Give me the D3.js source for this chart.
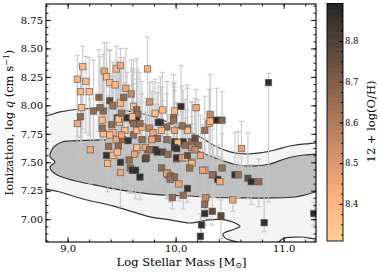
<!DOCTYPE html>
<html><head><meta charset="utf-8">
<script src="https://cdn.jsdelivr.net/npm/d3@7"></script>
<style>
body{margin:0;background:#fff}
svg{display:block}
text{font-family:"DejaVu Serif",serif;fill:#000}
</style>
</head><body>
<svg id="chart" width="380" height="274"></svg>
<script>
// ---- data ----
const mass = [
9.14,9.09,9.17,9.12,9.20,9.34,9.36,9.45,9.49,9.39,
9.44,9.54,9.59,9.29,9.39,9.42,9.49,9.52,9.74,9.13,
9.24,9.33,9.61,9.76,9.88,10.05,9.86,9.46,9.81,9.99,
10.19,10.32,9.64,9.65,9.98,10.31,10.38,10.43,10.86,10.27,
10.61,10.43,10.35,10.55,10.58,10.67,10.27,10.39,10.41,10.70,
10.77,10.53,10.28,10.27,10.27,10.34,10.42,10.24,10.23,10.82,
11.28,10.15,10.15,10.15,9.21,9.36,9.42,9.37,9.49,9.57,
9.58,9.60,9.63,9.49,9.67,9.72,9.74,9.47,9.46,9.64,
9.62,9.81,9.88,9.87,9.92,9.93,9.98,10.07,10.01,9.97,
10.07,10.11,9.09,9.12,9.33,9.32,9.38,9.42,9.45,9.51,
9.56,9.61,9.64,9.53,9.50,9.41,9.48,9.32,9.39,9.55,
9.60,9.64,9.47,9.69,9.76,9.79,9.84,9.98,9.99,10.11,
10.11,9.92,9.99,10.02,9.99,10.01,9.64,9.72,9.76,9.83,
9.93,9.73,10.01,10.06,10.09,10.11,10.15,10.13,10.25,9.92,
10.34,10.32,9.95,9.99,9.95,10.03,9.30,9.50,9.60,9.61,
9.67,9.92,10.06,9.83,9.87,10.18,10.21,10.23,10.18,10.09,
9.78,9.69];
const logq = [
8.34,8.23,8.21,8.12,8.12,8.30,8.25,8.32,8.35,8.20,
8.18,8.15,8.10,8.07,8.04,8.00,8.02,8.07,8.32,7.98,
7.95,7.95,7.99,8.03,7.96,7.99,7.85,7.89,7.93,7.95,
7.98,7.92,7.96,7.92,7.89,7.84,7.87,7.87,8.20,7.78,
7.62,7.45,7.39,7.39,7.39,7.36,7.43,7.35,7.33,7.33,
7.33,7.17,7.19,7.13,7.05,7.07,7.03,6.95,6.85,6.97,
7.05,7.68,7.63,7.50,7.61,7.56,7.56,7.49,7.50,7.52,
7.45,7.43,7.43,7.41,7.37,7.53,7.61,7.64,7.59,7.61,
7.57,7.61,7.59,7.45,7.41,7.39,7.37,7.68,7.53,7.19,
7.21,7.27,7.84,7.90,7.75,7.87,7.64,7.76,7.70,7.70,
7.69,7.74,7.78,7.78,7.74,7.83,7.85,7.80,7.74,7.89,
7.87,7.87,7.88,7.81,7.80,7.76,7.85,7.87,7.78,7.80,
7.78,7.70,7.68,7.67,7.63,7.62,7.63,7.63,7.61,7.59,
7.57,7.54,7.54,7.54,7.54,7.56,7.49,7.45,7.43,7.40,
7.39,7.86,7.38,7.37,7.35,7.31,7.98,7.93,7.90,7.84,
7.84,7.81,7.82,7.71,7.78,7.71,7.65,7.56,7.61,7.65,
7.70,7.70];
const metallicity = [
8.40,8.42,8.38,8.41,8.39,8.47,8.37,8.40,8.45,8.38,
8.39,8.46,8.55,8.68,8.76,8.64,8.40,8.66,8.44,8.38,
8.65,8.67,8.39,8.52,8.38,8.86,8.85,8.84,8.39,8.39,
8.46,8.55,8.66,8.64,8.65,8.45,8.87,8.68,8.87,8.64,
8.47,8.65,8.77,8.86,8.64,8.76,8.45,8.86,8.45,8.87,
8.66,8.46,8.56,8.65,8.86,8.76,8.77,8.86,8.87,8.86,
8.87,8.66,8.54,8.46,8.45,8.86,8.38,8.39,8.85,8.65,
8.66,8.86,8.87,8.45,8.86,8.85,8.65,8.66,8.39,8.38,
8.46,8.87,8.76,8.66,8.39,8.64,8.86,8.86,8.65,8.66,
8.65,8.86,8.45,8.66,8.38,8.39,8.65,8.38,8.46,8.66,
8.85,8.65,8.39,8.38,8.46,8.66,8.39,8.65,8.38,8.86,
8.66,8.86,8.38,8.39,8.56,8.46,8.86,8.65,8.46,8.65,
8.38,8.65,8.86,8.39,8.87,8.85,8.38,8.46,8.65,8.86,
8.66,8.76,8.86,8.46,8.38,8.76,8.39,8.65,8.46,8.46,
8.65,8.39,8.65,8.66,8.64,8.46,8.66,8.65,8.39,8.66,
8.65,8.66,8.65,8.66,8.39,8.76,8.65,8.46,8.55,8.66,
8.46,8.65];
const errLow = [
.55,.50,.45,.40,.38,.45,.40,.50,.40,.35,
.42,.30,.35,.30,.35,.30,.40,.28,.45,.35,
.30,.28,.35,.30,.30,.32,.30,.35,.25,.30,
.28,.30,.30,.28,.25,.30,.32,.35,1.05,.25,
.15,.20,.20,.20,.20,.18,.18,.15,.15,.20,
.22,.10,.10,.10,.10,.12,.20,.15,.10,.08,
.10,.30,.25,.25,.30,.25,.30,.25,.20,.28,
.22,.20,.25,.30,.20,.25,.30,.30,.28,.30,
.25,.25,.30,.22,.20,.20,.18,.30,.25,.10,
.12,.12,.30,.35,.30,.35,.30,.30,.30,.28,
.30,.30,.35,.30,.30,.35,.30,.35,.30,.30,
.30,.28,.35,.30,.28,.25,.30,.30,.28,.30,
.25,.28,.25,.30,.25,.22,.28,.25,.30,.25,
.25,.22,.25,.22,.25,.22,.20,.20,.20,.22,
.18,.30,.20,.18,.20,.15,.35,.30,.30,.28,
.30,.28,.30,.25,.30,.28,.25,.22,.25,.28,
.28,.28];
const errHigh = [
.18,.21,.22,.12,.30,.25,.30,.20,.15,.28,
.18,.35,.30,.42,.45,.38,.40,.35,.28,.35,
.45,.50,.40,.17,.33,.36,.40,.50,.30,.25,
.16,.35,.45,.40,.30,.30,.28,.25,.08,.30,
.24,.30,.25,.37,.38,.40,.45,.30,.22,.15,
.20,.28,.30,.25,.18,.28,.14,.25,.20,.25,
.10,.35,.40,.40,.45,.40,.35,.50,.40,.38,
.35,.30,.32,.40,.35,.40,.45,.42,.45,.40,
.35,.40,.45,.35,.40,.30,.35,.45,.38,.25,
.30,.30,.40,.45,.50,.45,.45,.50,.45,.40,
.48,.40,.45,.42,.40,.45,.48,.50,.42,.40,
.45,.42,.45,.40,.40,.45,.35,.40,.38,.35,
.40,.40,.45,.35,.40,.40,.40,.40,.45,.42,
.35,.40,.38,.40,.35,.40,.35,.38,.40,.35,
.40,.28,.30,.32,.30,.30,.45,.42,.40,.35,
.45,.40,.35,.40,.38,.35,.40,.35,.38,.40,
.42,.40];

// density contour outlines (mass, log q)
const outerContour = [
[8.65,7.889],[8.80,7.907],[8.93,7.942],[9.115,7.968],[9.30,7.973],[9.485,7.959],[9.67,7.933],
[9.856,7.880],[10.04,7.801],[10.226,7.722],[10.365,7.643],[10.504,7.591],[10.643,7.573],
[10.781,7.582],[10.92,7.608],[11.059,7.643],[11.198,7.661],[11.40,7.652],
[11.45,7.30],[11.40,6.844],[11.152,6.844],[11.013,6.836],[10.948,6.80],[10.828,6.765],[10.689,6.774],
[10.569,6.80],[10.457,6.836],[10.439,6.871],[10.522,6.906],[10.596,6.937],[10.55,6.967],
[10.457,6.994],[10.30,6.994],[10.133,6.967],[9.948,6.994],[9.763,7.020],[9.606,7.064],
[9.42,7.117],[9.143,7.178],[8.93,7.239],[8.80,7.266],[8.65,7.292],[8.60,7.60]];
const innerContour = [
[8.948,7.678],[9.022,7.687],[9.30,7.696],[9.578,7.700],[9.763,7.705],[9.902,7.678],
[10.041,7.643],[10.226,7.591],[10.365,7.538],[10.578,7.476],[10.735,7.468],[10.874,7.485],
[11.041,7.538],[11.198,7.564],[11.40,7.556],[11.45,7.40],[11.40,7.239],[11.30,7.239],
[11.198,7.213],[11.106,7.195],[10.893,7.187],[10.578,7.187],[10.272,7.195],[10.133,7.204],
[9.856,7.213],[9.485,7.257],[9.30,7.292],[9.115,7.327],[8.976,7.362],[8.902,7.389],
[8.853,7.424],[8.837,7.459],[8.883,7.503],[8.837,7.547],[8.853,7.608],[8.883,7.643]];

const xMajor = [9.0, 10.0, 11.0];
const yMajor = [7.00, 7.25, 7.50, 7.75, 8.00, 8.25, 8.50, 8.75];
const cbMajor = [8.4, 8.5, 8.6, 8.7, 8.8];

// ---- layout ----
const svg = d3.select("#chart");
const L = 46, R = 316, T = 4, B = 242;
const x = d3.scaleLinear().domain([8.8, 11.3]).range([L, R]);
const y = d3.scaleLinear().domain([6.80, 8.89]).range([B, T]);
const cbScale = d3.scaleLinear().domain([8.309, 8.892]).range([241, 3.5]);

function copperR(v){
  let t = 1 - (v - 8.309) / (8.892 - 8.309);
  t = Math.max(0, Math.min(1, t));
  const a = 0.85;
  const r = Math.min(1, 1.25 * t), g = 0.7812 * t, b = 0.4975 * t;
  const f = c => Math.round(255 * (a * c + (1 - a)));
  return `rgb(${f(r)},${f(g)},${f(b)})`;
}

svg.append("defs").append("clipPath").attr("id","plotclip")
  .append("rect").attr("x",L).attr("y",T).attr("width",R-L).attr("height",B-T);

const plot = svg.append("g").attr("clip-path","url(#plotclip)");
const line = d3.line().x(d=>x(d[0])).y(d=>y(d[1])).curve(d3.curveCatmullRomClosed.alpha(0.5));

plot.append("path").attr("d", line(outerContour))
  .attr("fill","#f4f4f4").attr("stroke","#333").attr("stroke-width",1.2);
plot.append("path").attr("d", line(innerContour))
  .attr("fill","#bfbfbf").attr("stroke","#333").attr("stroke-width",1.2);

const idx = d3.range(mass.length);
// error bars
const eb = plot.append("g").attr("stroke","#c4c4c4").attr("stroke-width",1.2).attr("stroke-opacity",0.85);
idx.forEach(i=>{
  const cx = x(mass[i]), y0 = y(logq[i]-errLow[i]), y1 = y(logq[i]+errHigh[i]);
  eb.append("line").attr("x1",cx).attr("x2",cx).attr("y1",y0).attr("y2",y1);
  eb.append("line").attr("x1",cx-2.6).attr("x2",cx+2.6).attr("y1",y0).attr("y2",y0);
  eb.append("line").attr("x1",cx-2.6).attr("x2",cx+2.6).attr("y1",y1).attr("y2",y1);
});
// markers
const s = 6.4;
plot.append("g").selectAll("rect").data(idx).join("rect")
  .attr("x", i=>x(mass[i])-s/2).attr("y", i=>y(logq[i])-s/2)
  .attr("width", s).attr("height", s)
  .attr("fill", i=>copperR(metallicity[i]))
  .attr("stroke","#505050").attr("stroke-opacity",0.75).attr("stroke-width",0.8);

// axes
function styleAxis(g){ g.select(".domain").remove(); g.selectAll("line").attr("stroke","#000").attr("stroke-width",0.9); g.selectAll("text").attr("font-family","DejaVu Serif").attr("font-size",10); }
const xMinor = d3.range(8.8, 11.3, 0.2).map(v=>+v.toFixed(2));
const yMinor = d3.range(6.8125, 8.89, 0.0625).map(v=>+v.toFixed(4));

svg.append("g").attr("transform",`translate(0,${B})`)
  .call(d3.axisBottom(x).tickValues(xMinor).tickSize(-2.5).tickFormat("")).call(styleAxis);
svg.append("g").attr("transform",`translate(0,${B})`)
  .call(d3.axisBottom(x).tickValues(xMajor).tickSize(-5).tickPadding(2.5).tickFormat(d3.format(".1f"))).call(styleAxis);
svg.append("g").attr("transform",`translate(0,${T})`)
  .call(d3.axisTop(x).tickValues(xMinor).tickSize(-2.5).tickFormat("")).call(styleAxis);
svg.append("g").attr("transform",`translate(0,${T})`)
  .call(d3.axisTop(x).tickValues(xMajor).tickSize(-5).tickFormat("")).call(styleAxis);
svg.append("g").attr("transform",`translate(${L},0)`)
  .call(d3.axisLeft(y).tickValues(yMinor).tickSize(-2.5).tickFormat("")).call(styleAxis);
svg.append("g").attr("transform",`translate(${L},0)`)
  .call(d3.axisLeft(y).tickValues(yMajor).tickSize(-5).tickPadding(3).tickFormat(d3.format(".2f"))).call(styleAxis);
svg.append("g").attr("transform",`translate(${R},0)`)
  .call(d3.axisRight(y).tickValues(yMinor).tickSize(-2.5).tickFormat("")).call(styleAxis);
svg.append("g").attr("transform",`translate(${R},0)`)
  .call(d3.axisRight(y).tickValues(yMajor).tickSize(-5).tickFormat("")).call(styleAxis);

svg.append("rect").attr("x",L).attr("y",T).attr("width",R-L).attr("height",B-T)
  .attr("fill","none").attr("stroke","#000").attr("stroke-width",1.1);

// axis labels
const yl = svg.append("text").attr("transform","translate(13,122.5) rotate(-90)")
  .attr("text-anchor","middle").attr("font-size",11.5);
yl.append("tspan").text("Ionization, log ");
yl.append("tspan").attr("font-style","italic").text("q");
yl.append("tspan").text(" (cm s");
yl.append("tspan").attr("font-size",8).attr("dy",-4.5).text("\u22121");
yl.append("tspan").attr("dy",4.5).text(")");

const xl = svg.append("text").attr("x",181.5).attr("y",265.5)
  .attr("text-anchor","middle").attr("font-size",11.5);
xl.append("tspan").text("Log Stellar Mass [M");
xl.append("tspan").attr("font-size",8).attr("dy",2.5).text("\u2299");
xl.append("tspan").attr("dy",-2.5).text("]");

// colorbar
const cbX = 327, cbW = 16;
const cb = svg.append("g");
const nBands = 90;
const bands = d3.range(nBands).map(k => 8.309 + (8.892-8.309)*k/nBands);
const bandH = (cbScale(8.309) - cbScale(8.892)) / nBands;
cb.selectAll("rect").data(bands).join("rect")
  .attr("x",cbX).attr("width",cbW)
  .attr("y", v=>cbScale(v)-bandH-0.3).attr("height", bandH+0.6)
  .attr("fill", v=>copperR(v + (8.892-8.309)/nBands/2));
const cbMinor = d3.range(8.325, 8.89, 0.025).map(v=>+v.toFixed(3));
svg.append("g").attr("transform",`translate(${cbX+cbW},0)`)
  .call(d3.axisRight(cbScale).tickValues(cbMinor).tickSize(-2).tickFormat("")).call(styleAxis);
const cba = svg.append("g").attr("transform",`translate(${cbX+cbW},0)`)
  .call(d3.axisRight(cbScale).tickValues(cbMajor).tickSize(-3.5).tickPadding(2).tickFormat(d3.format(".1f"))).call(styleAxis);
cba.selectAll("text").attr("font-size",8.5);
svg.append("rect").attr("x",cbX).attr("y",cbScale(8.892)).attr("width",cbW)
  .attr("height",cbScale(8.309)-cbScale(8.892)).attr("fill","none").attr("stroke","#000").attr("stroke-width",0.9);
svg.append("text").attr("transform","translate(375,121.5) rotate(-90)")
  .attr("text-anchor","middle").attr("font-size",11.5).text("12 + log(O/H)");
</script>
</body></html>
